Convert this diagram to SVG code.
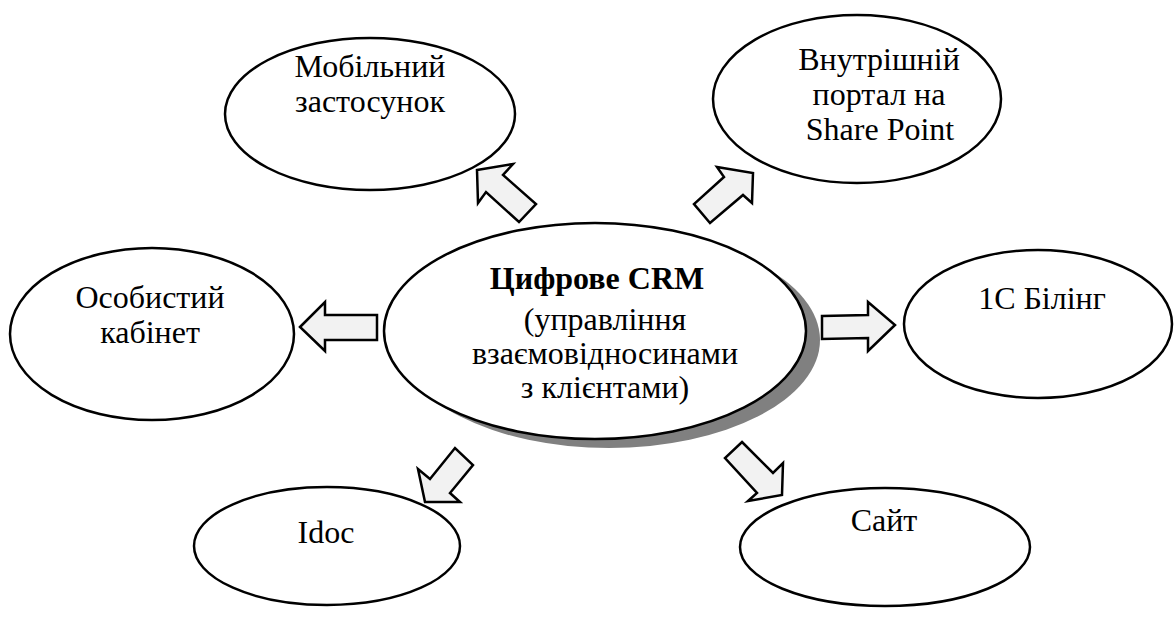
<svg xmlns="http://www.w3.org/2000/svg" width="1176" height="619" viewBox="0 0 1176 619">
<style>
.node{fill:#ffffff;stroke:#000000;stroke-width:2.5}
.shadow{fill:#808080;stroke:none}
.arrow{fill:#f2f2f2;stroke:#000000;stroke-width:2.5;stroke-linejoin:miter}
.t{font-family:"Liberation Serif","Times New Roman",serif;font-size:32px;fill:#000000;text-anchor:middle}
.b{font-weight:bold}
</style>
<rect width="1176" height="619" fill="#ffffff"/>
<g id="connectors">
<polygon class="arrow" points="477,170 513,164 503,175 536,204 519,222 486,192 478,203"/>
<polygon class="arrow" points="753,173 752,203 743,195 710,223 694,204 724,177 717,167"/>
<polygon class="arrow" points="300,327 325,302 325,315 377,315 377,340 325,340 325,351"/>
<polygon class="arrow" points="822,316 868,315 868,302 895,325 868,351 868,338 822,339"/>
<polygon class="arrow" points="425,502 418,469 430,479 455,448 473,465 450,493 460,502"/>
<polygon class="arrow" points="742,442 773,473 783,463 782,495 748,501 757,493 725,458"/>
</g>
<g id="center">
<ellipse class="shadow" cx="609" cy="340" rx="211" ry="108"/>
<ellipse class="node" cx="595" cy="331" rx="211" ry="108"/>
<text class="t b" x="597" y="289">Цифрове CRM</text>
<text class="t" x="605" y="330">(управління</text>
<text class="t" x="605" y="364">взаємовідносинами</text>
<text class="t" x="605" y="398">з клієнтами)</text>
</g>
<g id="mobile">
<ellipse class="node" cx="370" cy="114" rx="145" ry="76"/>
<text class="t" x="370" y="77">Мобільний</text>
<text class="t" x="370" y="112">застосунок</text>
</g>
<g id="portal">
<ellipse class="node" cx="857" cy="99" rx="144" ry="84"/>
<text class="t" x="879" y="70">Внутрішній</text>
<text class="t" x="879" y="105">портал на</text>
<text class="t" x="880" y="140">Share Point</text>
</g>
<g id="cabinet">
<ellipse class="node" cx="152" cy="334" rx="142" ry="86"/>
<text class="t" x="150" y="308">Особистий</text>
<text class="t" x="150" y="343">кабінет</text>
</g>
<g id="billing">
<ellipse class="node" cx="1038" cy="324" rx="134" ry="74"/>
<text class="t" x="1042" y="309">1С Білінг</text>
</g>
<g id="idoc">
<ellipse class="node" cx="327" cy="546" rx="133" ry="59"/>
<text class="t" x="326" y="543">Idoc</text>
</g>
<g id="site">
<ellipse class="node" cx="885" cy="547" rx="145" ry="59"/>
<text class="t" x="884" y="531">Сайт</text>
</g>
</svg>
